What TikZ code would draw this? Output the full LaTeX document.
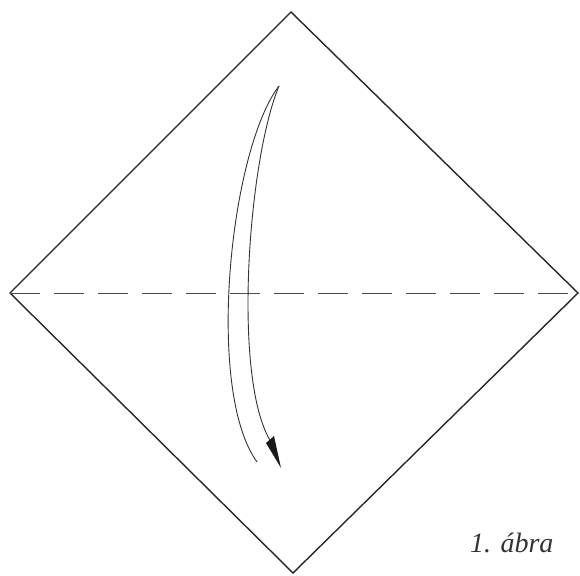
\documentclass[tikz,border=0pt]{standalone}
\usepackage{fontspec}
\setmainfont{Liberation Serif}
\begin{document}
\begin{tikzpicture}[x=1pt,y=-1pt,
  edge/.style={line width=1.4pt,black!85},
  foldline/.style={line width=0.8pt,black!70,dash pattern=on 30pt off 14pt},
  curve/.style={line width=0.9pt,black!80},
  caption/.style={font=\fontsize{28}{32}\selectfont\itshape,text=black!80,inner sep=0pt}]
\useasboundingbox (0,0) rectangle (580,575);
\coordinate (T) at (291,12);
\coordinate (R) at (578,293);
\coordinate (B) at (293,573);
\coordinate (L) at (10,293);
\draw[edge,line join=miter] (T) -- (R) -- (B) -- (L) -- cycle;
\draw[foldline] (L) -- (R);
\coordinate (tip) at (279,86);
\coordinate (tail) at (257,462);
\coordinate (head) at (271,442);
\draw[curve] (tip) .. controls (230,150) and (205,390) .. (tail);
\draw[curve] (tip) .. controls (248,160) and (232,380) .. (head);
\fill[black!90] (266,443) -- (274,436) -- (281,468) -- cycle;
\node[caption,anchor=base west] (cap) at (470,552) {1. ábra};
\end{tikzpicture}
\end{document}
